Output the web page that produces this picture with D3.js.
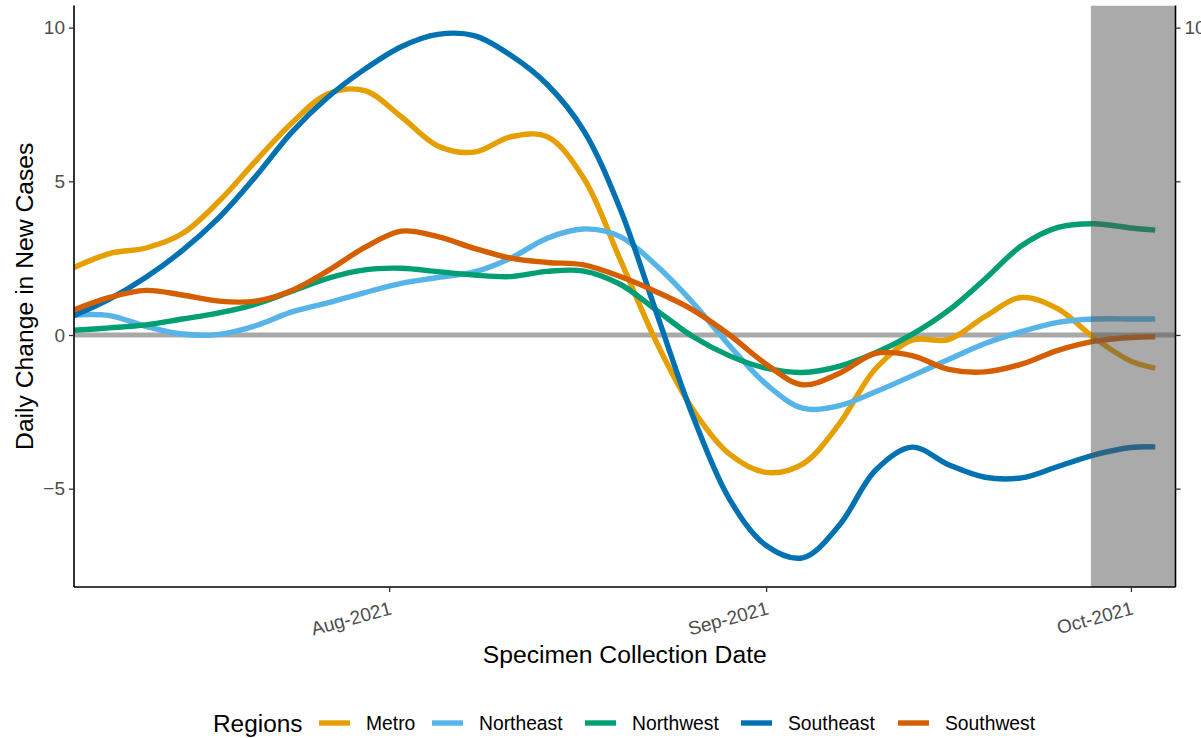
<!DOCTYPE html>
<html>
<head>
<meta charset="UTF-8">
<script src="https://d3js.org/d3.v7.min.js"></script>
<style>
  body { margin: 0; background: #fff; }
  text { font-family: "Liberation Sans", Arial, sans-serif; }
</style>
</head>
<body>
<svg></svg>

<script>
// specimen dates (every 3 days) and daily change per region
var dates = ["2021-07-06","2021-07-09","2021-07-12","2021-07-15","2021-07-18","2021-07-21","2021-07-24","2021-07-27","2021-07-30",
  "2021-08-02","2021-08-05","2021-08-08","2021-08-11","2021-08-14","2021-08-17","2021-08-20","2021-08-23","2021-08-26","2021-08-29",
  "2021-09-01","2021-09-04","2021-09-07","2021-09-10","2021-09-13","2021-09-16","2021-09-19","2021-09-22","2021-09-25","2021-09-28",
  "2021-10-01","2021-10-03"];

var metro = [2.18,2.65,2.83,3.3,4.35,5.65,6.9,7.85,7.95,7.1,6.15,5.95,6.45,6.45,5.1,2.45,-0.25,-2.44,-3.88,-4.47,-4.2,-2.9,-1.1,-0.17,-0.15,0.6,1.22,0.85,-0.1,-0.85,-1.08];
var northeast = [0.65,0.63,0.28,0.03,0.02,0.3,0.75,1.05,1.38,1.68,1.87,2.05,2.5,3.15,3.45,3.2,2.25,1.04,-0.35,-1.6,-2.38,-2.3,-1.85,-1.33,-0.8,-0.28,0.11,0.41,0.52,0.52,0.52];
var northwest = [0.15,0.23,0.33,0.52,0.72,1.0,1.42,1.85,2.12,2.17,2.06,1.95,1.9,2.07,2.08,1.65,0.8,-0.06,-0.68,-1.08,-1.22,-1.02,-0.58,0.02,0.8,1.82,2.9,3.5,3.62,3.48,3.41];
var southeast = [0.62,1.17,1.88,2.75,3.82,5.15,6.6,7.75,8.65,9.38,9.78,9.74,9.1,8.15,6.65,4.1,0.7,-2.66,-5.35,-6.85,-7.25,-6.2,-4.4,-3.65,-4.22,-4.63,-4.65,-4.28,-3.9,-3.66,-3.64];
var southwest = [0.8,1.22,1.45,1.3,1.1,1.1,1.45,2.1,2.85,3.38,3.2,2.82,2.5,2.36,2.28,1.9,1.4,0.81,0.0,-0.95,-1.62,-1.25,-0.6,-0.67,-1.12,-1.2,-0.95,-0.5,-0.2,-0.08,-0.06];

var regions = ["Metro","Northeast","Northwest","Southeast","Southwest"];
var regionColors = ["#E69F00","#56B4E9","#009E73","#0072B2","#D55E00"];
var yTicks = [-5, 0, 5, 10];
var xTicks = ["2021-08-01","2021-09-01","2021-10-01"];
var shadeStart = "2021-09-27T17:00";

var width = 1201, height = 738;
// panel edges (note: "top" is taken by window.top)
var pLeft = 74, pRight = 1175.5, pTop = 5.5, pBottom = 587;

var svg = d3.select("svg").attr("width", width).attr("height", height);

var parse = d3.utcParse("%Y-%m-%d");
var x = d3.scaleUtc()
  .domain([new Date(Date.UTC(2021,6,6,2)), new Date(Date.UTC(2021,9,4,16))])
  .range([pLeft, pRight]);
var y = d3.scaleLinear().domain([-8.2, 10.72]).range([pBottom, pTop]);

var seriesValues = [metro, northeast, northwest, southeast, southwest];
var series = regions.map(function(r, i) {
  return { name: r, color: regionColors[i], values: dates.map(function(d, j) {
    return { date: parse(d), value: seriesValues[i][j] };
  })};
});

svg.append("defs").append("clipPath").attr("id", "panel")
  .append("rect").attr("x", pLeft).attr("y", pTop).attr("width", pRight - pLeft).attr("height", pBottom - pTop);

var plot = svg.append("g").attr("clip-path", "url(#panel)");

// zero reference line
plot.append("line")
  .attr("x1", pLeft).attr("x2", pRight)
  .attr("y1", y(0)).attr("y2", y(0))
  .attr("stroke", "#A9A9A9").attr("stroke-width", 5);

var line = d3.line()
  .x(function(d) { return x(d.date); })
  .y(function(d) { return y(d.value); })
  .curve(d3.curveCatmullRom);

plot.selectAll(".series")
  .data(series)
  .enter().append("path")
  .attr("class", "series")
  .attr("fill", "none")
  .attr("stroke", function(d) { return d.color; })
  .attr("stroke-width", 5.4)
  .attr("d", function(d) { return line(d.values); });

// shaded incomplete period
var shadeX = x(new Date(shadeStart + "Z"));
plot.append("rect")
  .attr("x", shadeX)
  .attr("y", pTop)
  .attr("width", pRight - shadeX)
  .attr("height", pBottom - pTop)
  .attr("fill", "#555555")
  .attr("opacity", 0.5);

var tickFont = "19px";

// left axis
var yAxis = svg.append("g").attr("transform", "translate(" + pLeft + ",0)")
  .call(d3.axisLeft(y).tickValues(yTicks).tickSize(5).tickPadding(4).tickFormat(d3.format("d")));
yAxis.select(".domain").attr("stroke", "#000").attr("stroke-width", 1.6).attr("d", "M0," + pTop + "V" + pBottom);
yAxis.selectAll(".tick line").attr("stroke", "#333").attr("stroke-width", 1.3);
yAxis.selectAll(".tick text").attr("fill", "#4D4D4D").style("font-size", tickFont)
  .style("font-family", "'Liberation Sans', Arial, sans-serif");

// right axis (only the top label shows)
var yAxisR = svg.append("g").attr("transform", "translate(" + pRight + ",0)")
  .call(d3.axisRight(y).tickValues(yTicks).tickSize(5).tickPadding(4)
    .tickFormat(function(d) { return d == 10 ? "10" : ""; }));
yAxisR.select(".domain").attr("stroke", "#000").attr("stroke-width", 1.6).attr("d", "M0," + pTop + "V" + pBottom);
yAxisR.selectAll(".tick line").attr("stroke", "#333").attr("stroke-width", 1.3);
yAxisR.selectAll(".tick text").attr("fill", "#4D4D4D").style("font-size", tickFont)
  .style("font-family", "'Liberation Sans', Arial, sans-serif");

// bottom axis
var xAxis = svg.append("g").attr("transform", "translate(0," + pBottom + ")")
  .call(d3.axisBottom(x).tickValues(xTicks.map(parse)).tickSize(5).tickFormat(d3.utcFormat("%b-%Y")));
xAxis.select(".domain").attr("stroke", "#000").attr("stroke-width", 1.6).attr("d", "M" + pLeft + ",0H" + pRight);
xAxis.selectAll(".tick line").attr("stroke", "#333").attr("stroke-width", 1.3);
xAxis.selectAll(".tick text")
  .attr("fill", "#4D4D4D").style("font-size", tickFont)
  .style("font-family", "'Liberation Sans', Arial, sans-serif")
  .attr("text-anchor", "end")
  .attr("dy", null)
  .attr("x", -4).attr("y", 27)
  .attr("transform", "rotate(-15)");

// axis titles
svg.append("text")
  .attr("x", (pLeft + pRight) / 2).attr("y", 663)
  .attr("text-anchor", "middle")
  .style("font-size", "24.7px")
  .text("Specimen Collection Date");

svg.append("text")
  .attr("transform", "translate(24," + ((pTop + pBottom) / 2) + ") rotate(-90)")
  .attr("text-anchor", "middle")
  .attr("dy", "0.35em")
  .style("font-size", "24.7px")
  .text("Daily Change in New Cases");

// legend
var legend = svg.append("g").attr("transform", "translate(0,723)");
legend.append("text").attr("x", 213).attr("y", 0).attr("dy", "0.35em")
  .style("font-size", "24.4px").text("Regions");
var keyX = [319, 432, 585, 741, 898];
series.forEach(function(s, i) {
  legend.append("line")
    .attr("x1", keyX[i]).attr("x2", keyX[i] + 31)
    .attr("y1", 0).attr("y2", 0)
    .attr("stroke", s.color).attr("stroke-width", 5.4);
  legend.append("text")
    .attr("x", keyX[i] + 47).attr("y", 0).attr("dy", "0.35em")
    .style("font-size", "19.3px")
    .text(s.name);
});
</script>

</body>
</html>
